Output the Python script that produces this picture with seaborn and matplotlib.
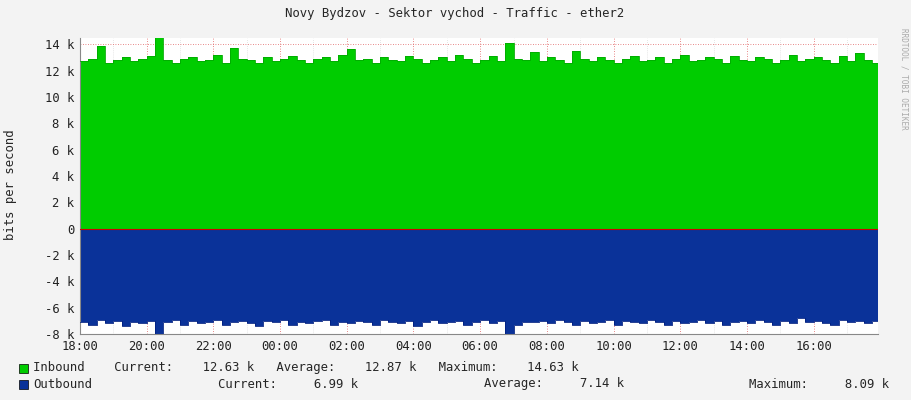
import matplotlib
matplotlib.use("Agg")
import matplotlib.pyplot as plt
import seaborn as sns
import numpy as np
import pandas as pd

sns.set_style("white")
plt.rcParams['font.family'] = ['DejaVu Sans Mono']

hours = [i * 0.25 for i in range(96)]
inbound = [12.7,12.9,13.9,12.6,12.8,13.0,12.7,12.9,13.1,14.63,12.8,12.6,12.9,13.0,12.7,12.8,
           13.2,12.6,13.7,12.9,12.8,12.6,13.0,12.7,12.9,13.1,12.8,12.6,12.9,13.0,12.7,13.2,
           13.6,12.8,12.9,12.6,13.0,12.8,12.7,13.1,12.9,12.6,12.8,13.0,12.7,13.2,12.9,12.6,
           12.8,13.1,12.7,14.1,12.9,12.8,13.4,12.7,13.0,12.8,12.6,13.5,12.9,12.7,13.0,12.8,
           12.6,12.9,13.1,12.7,12.8,13.0,12.6,12.9,13.2,12.7,12.8,13.0,12.9,12.6,13.1,12.8,
           12.7,13.0,12.9,12.6,12.8,13.2,12.7,12.9,13.0,12.8,12.6,13.1,12.7,13.3,12.8,12.6]
outbound = [-7.1,-7.3,-6.9,-7.2,-7.0,-7.4,-7.1,-7.2,-7.0,-8.09,-7.1,-6.9,-7.3,-7.0,-7.2,-7.1,
            -6.9,-7.3,-7.1,-7.0,-7.2,-7.4,-7.0,-7.1,-6.9,-7.3,-7.1,-7.2,-7.0,-6.9,-7.3,-7.1,
            -7.2,-7.0,-7.1,-7.3,-6.9,-7.1,-7.2,-7.0,-7.4,-7.1,-6.9,-7.2,-7.1,-7.0,-7.3,-7.1,
            -6.9,-7.2,-7.0,-8.0,-7.3,-7.1,-7.1,-7.0,-7.2,-6.9,-7.1,-7.3,-7.0,-7.2,-7.1,-6.9,
            -7.3,-7.0,-7.1,-7.2,-6.9,-7.1,-7.3,-7.0,-7.2,-7.1,-6.9,-7.2,-7.0,-7.3,-7.1,-7.0,
            -7.2,-6.9,-7.1,-7.3,-7.0,-7.2,-6.8,-7.1,-7.0,-7.2,-7.3,-6.9,-7.1,-7.0,-7.2,-6.99]
xticks = ["18:00","20:00","22:00","00:00","02:00","04:00","06:00","08:00","10:00","12:00","14:00","16:00"]
ytick_labels = ["-8 k","-6 k","-4 k","-2 k","0","2 k","4 k","6 k","8 k","10 k","12 k","14 k"]

df = pd.DataFrame({"h": hours + [23.93], "in": [v*1000 for v in inbound] + [inbound[-1]*1000],
                   "out": [v*1000 for v in outbound] + [outbound[-1]*1000]})

fs = 8.8
fig = plt.figure(figsize=(9.11, 4.0), dpi=100, facecolor="#F3F3F3")
ax = fig.add_axes([80/911, 1-334/400, 798/911, 296/400])
ax.set_facecolor("white")
ax.fill_between(df["h"], 0, df["in"], step="post", color="#00CC00", lw=0, zorder=2)
ax.fill_between(df["h"], 0, df["out"], step="post", color="#0A3299", lw=0, zorder=2)
sns.lineplot(data=df, x="h", y="in", drawstyle="steps-post", color="#00AA00", lw=0.6, ax=ax, zorder=3)
sns.lineplot(data=df, x="h", y="out", drawstyle="steps-post", color="#001F80", lw=0.6, ax=ax, zorder=3)
ax.set_xlim(0, 23.93)
ax.set_ylim(-8000, 14470)
ax.set_xticks([2*i for i in range(12)])
ax.set_xticklabels(xticks)
ax.set_yticks([-8000 + 2000*i for i in range(12)])
ax.set_yticklabels(ytick_labels)
ax.set_xticks(range(24), minor=True)
ax.grid(True, which="major", color="#E06060", ls=(0,(1,2)), lw=0.6, zorder=4)
ax.grid(True, which="minor", axis="x", color="#CCCCCC", ls=(0,(1,2)), lw=0.5, zorder=4)
ax.tick_params(labelsize=fs, length=2, colors="#222222", pad=2)
ax.set_xlabel("")
ax.set_ylabel("")
fig.text(11/911, 1-185/400, "bits per second", rotation=90, ha="center", va="center", fontsize=fs)
for s in ["top","right"]:
    ax.spines[s].set_visible(False)
for s in ["left","bottom"]:
    ax.spines[s].set_color("#888888"); ax.spines[s].set_linewidth(0.8)
ax.axhline(0, color="#CC0000", lw=0.8, zorder=5)
fig.text(455/911, 1-14/400, "Novy Bydzov - Sektor vychod - Traffic - ether2", ha="center", va="center", fontsize=fs)
fig.text(904/911, 0.93, "RRDTOOL / TOBI OETIKER", rotation=270, ha="center", va="top", fontsize=5.5, color="#AAAAAA")
fig.patches.append(plt.Rectangle((19/911, 1-373/400), 9/911, 9/400, transform=fig.transFigure, fc="#00CC00", ec="black", lw=0.5))
fig.patches.append(plt.Rectangle((19/911, 1-389/400), 9/911, 9/400, transform=fig.transFigure, fc="#0A3299", ec="black", lw=0.5))
fig.text(33/911, 1-368/400, "Inbound    Current:    12.63 k   Average:    12.87 k   Maximum:    14.63 k", va="center", fontsize=fs)
fig.text(33/911, 1-384/400, "Outbound", va="center", fontsize=fs)
fig.text(218/911, 1-384/400, "Current:     6.99 k", va="center", fontsize=fs)
fig.text(484/911, 1-384/400, "Average:     7.14 k", va="center", fontsize=fs)
fig.text(749/911, 1-384/400, "Maximum:     8.09 k", va="center", fontsize=fs)
fig.savefig("out.png", dpi=100, facecolor=fig.get_facecolor())
